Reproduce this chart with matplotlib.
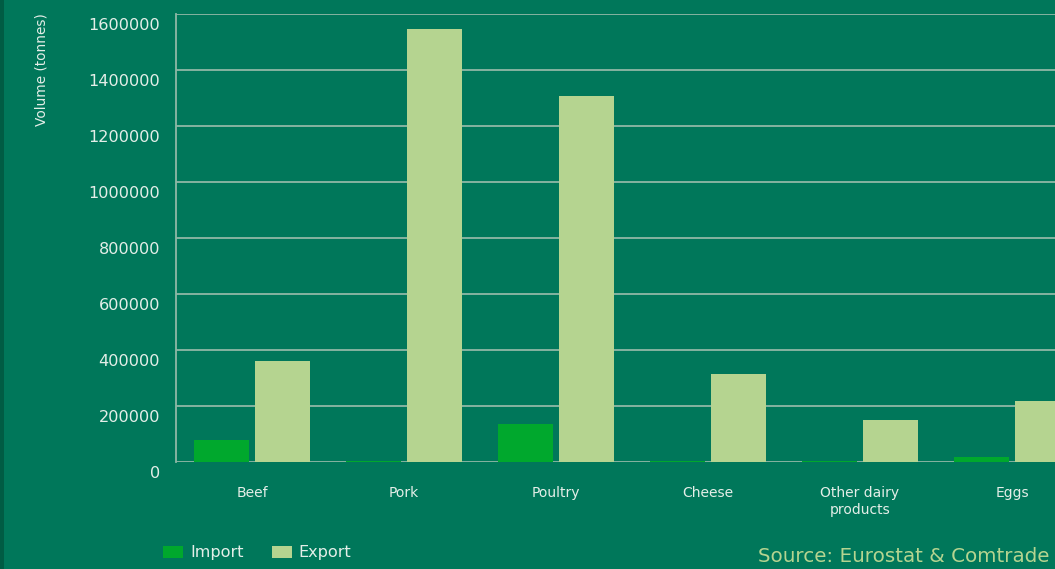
import matplotlib
matplotlib.use("Agg")
import matplotlib.pyplot as plt
import numpy as np
from matplotlib.transforms import ScaledTranslation
from matplotlib.patches import Rectangle

categories = ["Beef", "Pork", "Poultry", "Cheese", "Other dairy\nproducts", "Eggs"]
import_vals = [78000, 3000, 136000, 2000, 2000, 18000]
export_vals = [361000, 1546000, 1307000, 314000, 150000, 218000]
yticks = [0, 200000, 400000, 600000, 800000, 1000000, 1200000, 1400000, 1600000]
ytick_labels = [str(v) for v in yticks]

BG = "#00775A"
IMP = "#00A82D"
EXP = "#B5D490"
GRID = "#8FB8A6"
TXT = "#E4EEE8"

plt.rcParams["font.family"] = ["DejaVu Sans"]

fig = plt.figure(figsize=(10.55, 5.69), dpi=100, facecolor=BG)
fig.patches.append(Rectangle((0, 0), 4 / 1055, 1, transform=fig.transFigure,
                             facecolor="#005C44", edgecolor="none", zorder=0))

ax = fig.add_axes([176 / 1055, 1 - 462 / 569, 912 / 1055, 448 / 569])
ax.set_facecolor(BG)

x = np.arange(len(categories))
w = 0.36
ax.bar(x - 0.2, import_vals, w, color=IMP, zorder=3, label="Import")
ax.bar(x + 0.2, export_vals, w, color=EXP, zorder=3, label="Export")

ax.set_xlim(-0.5, len(categories) - 0.5)
ax.set_ylim(0, 1600000)
ax.set_yticks(yticks)
ax.set_yticklabels(ytick_labels)
ax.set_xticks(x)
ax.set_xticklabels(categories)

ax.grid(axis="y", color=GRID, linewidth=1.3, zorder=1)
for s in ["top", "right", "bottom"]:
    ax.spines[s].set_visible(False)
ax.spines["left"].set_color(GRID)
ax.spines["left"].set_linewidth(1.3)

ax.tick_params(axis="y", length=0, pad=11.5, labelsize=11.6, labelcolor=TXT)
ax.tick_params(axis="x", length=0, pad=17.5, labelsize=10, labelcolor=TXT)
off = ScaledTranslation(0, -7.2 / 72, fig.dpi_scale_trans)
for lab in ax.get_yticklabels():
    lab.set_transform(lab.get_transform() + off)

ax.set_ylabel("Volume (tonnes)", color=TXT, fontsize=9.8)
ax.yaxis.set_label_coords(-0.140, 0.875)

fig.legend(loc="center left", bbox_to_anchor=(163 / 1055, 1 - 553 / 569), ncol=2,
           frameon=False, fontsize=11.6, labelcolor=TXT, handlelength=1.24,
           handleheight=0.8, handletextpad=0.44, columnspacing=1.75, borderpad=0,
           borderaxespad=0)

fig.text(758 / 1055, 1 - 557 / 569, "Source: Eurostat & Comtrade", color=EXP,
         fontsize=14.3, va="center", ha="left")

fig.savefig("out.png", dpi=100, facecolor=BG)
